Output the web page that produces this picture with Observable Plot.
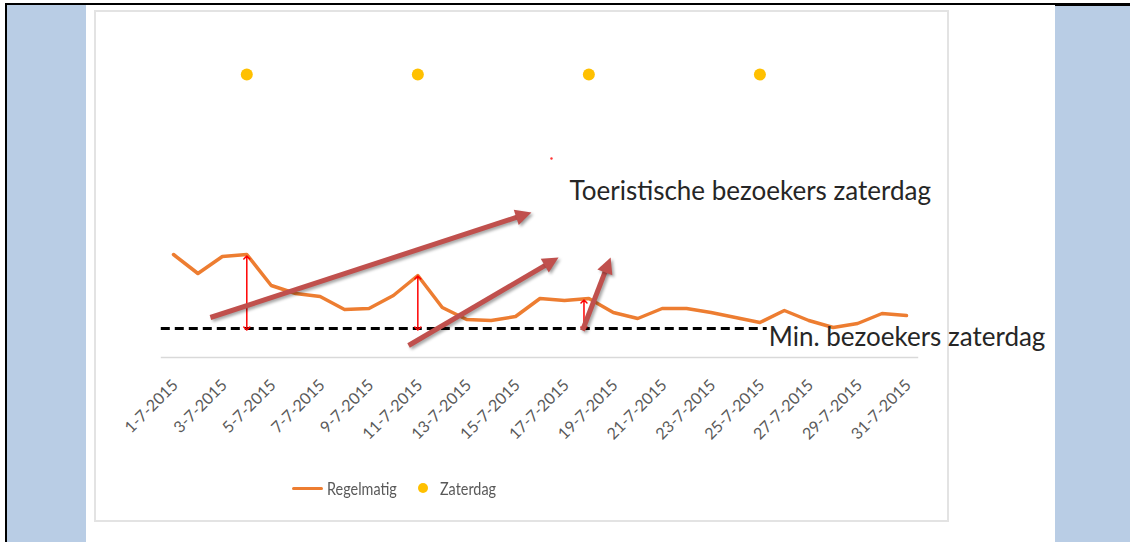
<!DOCTYPE html>
<html>
<head>
<meta charset="utf-8">
<script src="https://cdn.jsdelivr.net/npm/d3@7"></script>
<script src="https://cdn.jsdelivr.net/npm/@observablehq/plot@0.6"></script>
<style>
  html, body { margin: 0; padding: 0; background: #fff; }
  #page { position: relative; width: 1130px; height: 542px; overflow: hidden; background: #fff; font-family: Lato, "Open Sans", sans-serif; }
  .abs { position: absolute; }
  #chart { position: absolute; left: 0; top: 0; }
  .legtext { position: absolute; font-size: 18px; color: #595959; line-height: 20px; transform: scaleX(0.8); transform-origin: 0 50%; }
</style>
</head>
<body>
<div id="page">
  <div class="abs" style="left:7px; top:4px; width:79px; height:538px; background:#b9cde5;"></div>
  <div class="abs" style="left:1055px; top:4px; width:75px; height:538px; background:#b9cde5;"></div>
  <div class="abs" style="left:5px; top:3px; width:2px; height:539px; background:#000;"></div>
  <div class="abs" style="left:5px; top:3px; width:1125px; height:1.5px; background:#000;"></div>
  <div class="abs" style="left:1055px; top:3px; width:75px; height:2.5px; background:#000;"></div>
  <div class="abs" style="left:94px; top:10px; width:855px; height:512px; border:2px solid #e3e3e3; box-sizing:border-box; background:#fff;"></div>
  <div id="chart"></div>
  <div class="abs" style="left:292px; top:486.5px; width:31px; height:3.5px; background:#ed7d31; border-radius:2px;"></div>
  <div class="legtext" style="left:327px; top:478px;">Regelmatig</div>
  <div class="abs" style="left:418px; top:483px; width:10px; height:10px; border-radius:50%; background:#ffc000;"></div>
  <div class="legtext" style="left:440px; top:478px;">Zaterdag</div>
</div>
<script>
// ---- data ----
const days = [1,2,3,4,5,6,7,8,9,10,11,12,13,14,15,16,17,18,19,20,21,22,23,24,25,26,27,28,29,30,31];
const regelmatig = [103,84,101,103,72,64,61,48,49,62,82,50,38,37,41,59,57,59,45,39,49,49,45,40,35,47,37,30,34,44,42];
const zaterdagDays = [4,11,18,25];
const zaterdag = [283,283,283,283];
const minZaterdag = 29;
const tickDays = [1,3,5,7,9,11,13,15,17,19,21,23,25,27,29,31];
const tickLabels = ["1-7-2015","3-7-2015","5-7-2015","7-7-2015","9-7-2015","11-7-2015","13-7-2015","15-7-2015","17-7-2015","19-7-2015","21-7-2015","23-7-2015","25-7-2015","27-7-2015","29-7-2015","31-7-2015"];
// annotation arrows (in data units: day, visitors)
const trendX1 = [2.51, 10.62, 17.74];
const trendY1 = [40, 12, 27];
const trendX2 = [15.65, 16.76, 18.89];
const trendY2 = [145, 100, 100];
const gapDays = [4, 11, 17.8];
const gapTop = [100, 80, 56];
const gapBottom = [29, 29, 29];
const labelTourist = "Toeristische bezoekers zaterdag";
const labelMin = "Min. bezoekers zaterdag";

// ---- scales ----
const xOpt = {type: "linear", domain: [1, 31], range: [173, 906]};
const yOpt = {type: "linear", domain: [0, 340], range: [357, 17]};
const sx = Plot.scale({x: xOpt});
const sy = Plot.scale({y: yOpt});
const idx = d3.range(trendX1.length);
const angle = i => Math.atan2(sx.apply(trendX2[i]) - sx.apply(trendX1[i]), -(sy.apply(trendY2[i]) - sy.apply(trendY1[i]))) * 180 / Math.PI;
const headShape = {
  draw(context, l, r) {
    context.moveTo(0, -l);
    context.lineTo(-r, 0);
    context.lineTo(r, 0);
    context.closePath();
  }
};

const chart = Plot.plot({
  width: 1130,
  height: 542,
  margin: 0,
  x: {...xOpt, axis: null},
  y: {...yOpt, axis: null},
  style: {fontFamily: "Lato, 'Open Sans', sans-serif", background: "transparent", overflow: "visible"},
  marks: [
    Plot.ruleY([0], {x1: 0.5, x2: 31.5, stroke: "#d9d9d9", strokeWidth: 1.5}),
    Plot.ruleY([minZaterdag], {x1: 0.5, x2: 25.3, stroke: "#000", strokeWidth: 3, strokeDasharray: "9,5"}),
    Plot.line(days, {x: d => d, y: (d, i) => regelmatig[i], stroke: "#ed7d31", strokeWidth: 3.5, strokeLinejoin: "round", strokeLinecap: "round"}),
    Plot.dot(zaterdagDays, {x: d => d, y: (d, i) => zaterdag[i], r: 6, fill: "#ffc000", stroke: "none"}),
    Plot.text(tickDays, {x: d => d, y: () => 0, text: (d, i) => tickLabels[i], rotate: -45, textAnchor: "end", lineAnchor: "middle", dx: 2, dy: 25, fontSize: 16, fill: "#595959"}),
    Plot.link(gapDays, {x1: d => d, x2: d => d, y1: (d, i) => gapBottom[i], y2: (d, i) => gapTop[i], stroke: "#ff0000", strokeWidth: 1.5, markerStart: "arrow-reverse", markerEnd: "arrow"}),
    Plot.dot([16.47], {x: d => d, y: () => 199, r: 1.2, fill: "#ff3333", stroke: "none"}),
    Plot.arrow(idx, {x1: i => trendX1[i], y1: i => trendY1[i], x2: i => trendX2[i], y2: i => trendY2[i], stroke: "#c0504d", strokeWidth: 5, headLength: 0, insetEnd: 12, strokeLinecap: "butt"}),
    Plot.vector(idx, {x: i => trendX2[i], y: i => trendY2[i], rotate: i => angle(i), length: 16, r: 8, anchor: "end", shape: headShape, fill: "#c0504d", stroke: "none"}),
    Plot.text([labelTourist], {x: () => 17.21, y: () => 166, text: d => d, textAnchor: "start", lineAnchor: "middle", fontSize: 26, fill: "#262626"}),
    Plot.text([labelMin], {x: () => 25.36, y: () => 20, text: d => d, textAnchor: "start", lineAnchor: "middle", fontSize: 26, fill: "#262626"})
  ]
});
d3.select(chart).selectAll('g[aria-label="arrow"], g[aria-label="vector"]').style("filter", "drop-shadow(2px 2px 1.5px rgba(0,0,0,0.35))");
document.getElementById("chart").appendChild(chart);
</script>
</body>
</html>
